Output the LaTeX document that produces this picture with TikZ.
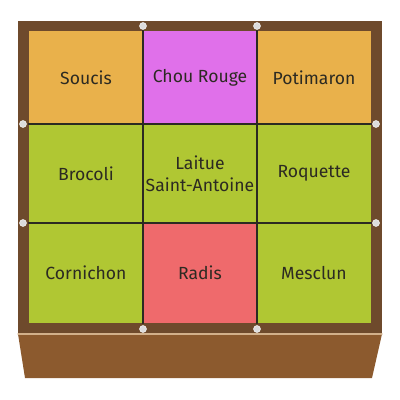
\documentclass[tikz,border=0pt]{standalone}
\usepackage{fontspec}
\setmainfont{Fira Sans}
\definecolor{wood}{HTML}{6E4A2C}
\definecolor{base}{HTML}{8C5A2E}
\definecolor{seam}{HTML}{D2B08A}
\definecolor{souci}{HTML}{E9B14B}
\definecolor{chou}{HTML}{E070EA}
\definecolor{leaf}{HTML}{B0C733}
\definecolor{radis}{HTML}{EF6A6C}
\definecolor{ink}{HTML}{2C2A22}
\definecolor{pinc}{HTML}{DCDCDC}

\begin{document}
\begin{tikzpicture}[x=0.025cm,y=-0.025cm,line cap=round,
  bed/.style={rectangle,inner sep=0pt,minimum width=2.85cm,align=center,
    text=ink,font=\fontsize{12.5}{15.5}\selectfont},
  toprow/.style={bed,minimum height=2.325cm},
  midrow/.style={bed,minimum height=2.475cm},
  lowrow/.style={bed,minimum height=2.5cm},
  pin/.style={circle,fill=pinc,draw=white,line width=0.3pt,inner sep=0pt,minimum size=5pt},
  grid/.style={draw=ink,line width=1.3pt}]
\useasboundingbox (0,0) rectangle (400,400);
% box and base
\fill[base] (18,334) -- (382,334) -- (372,378) -- (25,378) -- cycle;
\fill[wood] (18,21) rectangle (382,334);
\draw[seam,line width=0.8pt] (18,334) -- (382,334);
% beds
\node[toprow,fill=souci] (soucis) at (86,77.5) {Soucis};
\node[toprow,fill=chou] (chou) at (200,77.5) {Chou Rouge};
\node[toprow,fill=souci] (potimaron) at (314,77.5) {Potimaron};
\node[midrow,fill=leaf] (brocoli) at (86,173.5) {Brocoli};
\node[midrow,fill=leaf] (laitue) at (200,173.5) {Laitue\\Saint-Antoine};
\node[midrow,fill=leaf] (roquette) at (314,173.5) {Roquette};
\node[lowrow,fill=leaf] (cornichon) at (86,273) {Cornichon};
\node[lowrow,fill=radis] (radis) at (200,273) {Radis};
\node[lowrow,fill=leaf] (mesclun) at (314,273) {Mesclun};
% strings
\draw[grid] (soucis.north east) -- (cornichon.south east);
\draw[grid] (chou.north east) -- (radis.south east);
\draw[grid] (soucis.south west) -- (potimaron.south east);
\draw[grid] (cornichon.north west) -- (mesclun.north east);
% pins
\foreach \x in {143,257} {
  \node[pin] (top\x) at (\x,26) {};
  \node[pin] (bot\x) at (\x,329) {};
}
\foreach \y in {124,223} {
  \node[pin] (left\y) at (23,\y) {};
  \node[pin] (right\y) at (376,\y) {};
}
\end{tikzpicture}
\end{document}
